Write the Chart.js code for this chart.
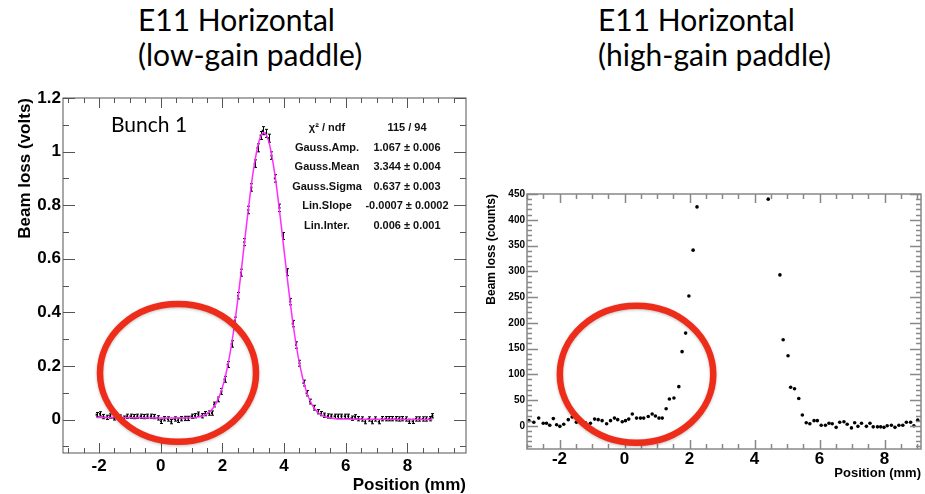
<!DOCTYPE html>
<html>
<head>
<meta charset="utf-8">
<script src="https://cdn.jsdelivr.net/npm/chart.js@4.4.1/dist/chart.umd.min.js"></script>
<style>
    body { margin: 0; background: #fff; width: 925px; height: 494px; position: relative; overflow: hidden; }
    .title { position: absolute; top: 2px; font-family: Lato, 'Open Sans', sans-serif; font-size: 30px; line-height: 35px; color: #000; white-space: nowrap; }
    canvas { position: absolute; }
</style>
</head>
<body>
<div class="title" style="left:138px">E11 Horizontal<br>(low-gain paddle)</div>
<div class="title" style="left:598px">E11 Horizontal<br>(high-gain paddle)</div>
<canvas id="low_gain" width="470" height="414" style="left:0;top:80px"></canvas>
<canvas id="high_gain" width="455" height="324" style="left:470px;top:170px"></canvas>
<script>
// ---- low-gain paddle (left panel) ----
let lowX = [
    -2.08, -1.97, -1.86, -1.75, -1.64, -1.53, -1.42, -1.31, -1.20, -1.09,
    -0.98, -0.87, -0.76, -0.65, -0.54, -0.43, -0.32, -0.21, -0.10, 0.01,
    0.12, 0.23, 0.34, 0.45, 0.56, 0.67, 0.78, 0.89, 1.00, 1.11,
    1.22, 1.33, 1.44, 1.55, 1.66,
    1.73, 1.86, 1.97, 2.07, 2.17, 2.30, 2.41, 2.51, 2.60, 2.71,
    2.84, 2.94, 3.05, 3.14, 3.24, 3.31, 3.42, 3.50, 3.59, 3.70,
    3.85, 3.96, 4.09, 4.20, 4.28, 4.39, 4.50, 4.63, 4.73, 4.84,
    4.97, 5.09, 5.20,
    5.31, 5.42, 5.53, 5.64, 5.75, 5.86, 5.97, 6.08, 6.19, 6.30,
    6.41, 6.52, 6.63, 6.74, 6.85, 6.96, 7.07, 7.18, 7.29, 7.40,
    7.51, 7.62, 7.73, 7.84, 7.95, 8.06, 8.17, 8.28, 8.39, 8.50,
    8.61, 8.72, 8.81
];
let lowY = [
    0.018, 0.021, 0.011, 0.008, 0.013, 0.006, 0.012, 0.009, 0.005, 0.012,
    0.012, 0.011, 0.012, 0.012, 0.011, 0.012, 0.012, 0.011, 0.006, -0.007,
    0.003, 0.002, -0.008, 0.002, -0.003, 0.003, 0.004, 0.004, 0.012, 0.014,
    0.020, 0.014, 0.022, 0.024, 0.024,
    0.056, 0.075, 0.105, 0.150, 0.205, 0.282, 0.370, 0.462, 0.548, 0.662,
    0.782, 0.866, 0.955, 1.014, 1.060, 1.078, 1.068, 1.050, 0.985, 0.900,
    0.790, 0.685, 0.550, 0.440, 0.358, 0.278, 0.210, 0.136, 0.098, 0.067,
    0.044, 0.029, 0.022,
    0.016, 0.013, 0.012, 0.012, 0.012, 0.012, 0.012, 0.012, 0.005, 0.010,
    0.003, 0.002, -0.008, 0.002, -0.008, 0.002, -0.008, 0.003, 0.003, 0.003,
    0.003, 0.003, 0.002, 0.003, 0.002, -0.007, -0.007, 0.002, 0.002, 0.002,
    0.002, 0.003, 0.014
];
let lowErr = [
    0.008, 0.008, 0.008, 0.008, 0.008, 0.008, 0.008, 0.008, 0.008, 0.008,
    0.008, 0.008, 0.008, 0.008, 0.008, 0.008, 0.008, 0.008, 0.008, 0.008,
    0.008, 0.008, 0.008, 0.008, 0.008, 0.008, 0.008, 0.008, 0.008, 0.008,
    0.008, 0.008, 0.008, 0.008, 0.008,
    0.009, 0.009, 0.011, 0.011, 0.011, 0.012, 0.012, 0.012, 0.013, 0.013,
    0.014, 0.014, 0.014, 0.015, 0.015, 0.015, 0.015, 0.015, 0.014, 0.014,
    0.014, 0.013, 0.013, 0.012, 0.012, 0.012, 0.011, 0.011, 0.010, 0.009,
    0.009, 0.008, 0.008,
    0.008, 0.008, 0.008, 0.008, 0.008, 0.008, 0.008, 0.008, 0.008, 0.008,
    0.008, 0.008, 0.008, 0.008, 0.008, 0.008, 0.008, 0.008, 0.008, 0.008,
    0.008, 0.008, 0.008, 0.008, 0.008, 0.008, 0.008, 0.008, 0.008, 0.008,
    0.008, 0.008, 0.008
];
// magenta fit curve
let fitX = [-2.08, -1, 0, 0.8, 1.2, 1.4, 1.6, 1.8, 2.0, 2.2, 2.4, 2.6, 2.8, 3.0, 3.2, 3.344,
    3.5, 3.7, 3.9, 4.1, 4.3, 4.5, 4.7, 4.9, 5.1, 5.3, 5.6, 6.0, 7.0, 8.0, 8.81];
let fitY = [0.0075, 0.0067, 0.006, 0.0056, 0.0089, 0.0151, 0.030, 0.0613, 0.1198, 0.2173, 0.3602, 0.5437, 0.745, 0.926, 1.044, 1.0707,
    1.039, 0.916, 0.732, 0.531, 0.349, 0.2085, 0.1134, 0.0566, 0.0263, 0.0119, 0.0041, 0.0018, 0.0011, 0.0004, 0.0];
let lowXTicks = [-2, 0, 2, 4, 6, 8];
let lowYTicks = [0, 0.2, 0.4, 0.6, 0.8, 1, 1.2];
let statNames = ['χ² / ndf', 'Gauss.Amp.', 'Gauss.Mean', 'Gauss.Sigma', 'Lin.Slope', 'Lin.Inter.'];
let statValues = ['115 / 94', '1.067 ± 0.006', '3.344 ± 0.004', '0.637 ± 0.003', '-0.0007 ± 0.0002', '0.006 ± 0.001'];

// ---- high-gain paddle (right panel) ----
let highX = [
    -2.94, -2.79, -2.64, -2.50, -2.40, -2.30, -2.19, -2.09, -1.99, -1.87,
    -1.73, -1.61, -1.48, -1.35, -1.20, -1.05, -0.92, -0.81, -0.69, -0.55,
    -0.43, -0.31, -0.21, -0.07, 0.03, 0.13, 0.24, 0.37, 0.49, 0.59,
    0.73, 0.85, 0.95, 1.06, 1.16, 1.28, 1.38, 1.52, 1.67, 1.77,
    1.88, 1.98, 2.11, 2.23,
    4.42, 4.78, 4.88, 5.03, 5.11, 5.23, 5.36, 5.47, 5.59, 5.70,
    5.83, 5.93, 6.05, 6.18, 6.29, 6.39, 6.51, 6.62, 6.75, 6.85,
    6.98, 7.08, 7.18, 7.29, 7.44, 7.55, 7.65, 7.78, 7.88, 7.98,
    8.08, 8.21, 8.32, 8.44, 8.56, 8.67, 8.80, 8.90, 9.02
];
let highY = [
    10, 7, 15, 5, 5, 1, 14, 2, -1, 3,
    12, 17, 7, 7, 6, 5, 13, 12, 10, 4,
    10, 15, 12, 8, 10, 13, 23, 15, 15, 15,
    18, 23, 19, 15, 15, 33, 52, 54, 76, 144,
    180, 252, 341, 425,
    440, 293, 167, 136, 75, 72, 53, 21, 6, 4,
    10, 10, 1, 1, 5, 4, -3, 7, 8, 3,
    -4, 6, -1, 5, -1, 5, -2, -2, -2, -3,
    0, 1, -3, 1, 1, 7, 7, 0, 11
];
let highXTicks = [-2, 0, 2, 4, 6, 8];
let highYTicks = [0, 50, 100, 150, 200, 250, 300, 350, 400, 450];

const FONT = "'Liberation Sans', Arial, Helvetica, sans-serif";

// ROOT style frame with inward ticks on all four sides
const rootFrame = {
    id: 'rootFrame',
    afterDraw(chart, args, opts) {
        let {ctx, chartArea: a, scales} = chart;
        ctx.save();
        ctx.strokeStyle = opts.color;
        ctx.lineWidth = opts.width;
        ctx.strokeRect(a.left, a.top, a.width, a.height);
        ctx.beginPath();
        let sx = scales.x;
        for (let k = Math.ceil(sx.min / opts.xMinor - 1e-6); k <= Math.floor(sx.max / opts.xMinor + 1e-6); k++) {
            let px = Math.round(sx.getPixelForValue(k * opts.xMinor)) + 0.5;
            let len = k % opts.xEvery === 0 ? opts.xLen[0] : opts.xLen[1];
            ctx.moveTo(px, a.bottom); ctx.lineTo(px, a.bottom - len);
            ctx.moveTo(px, a.top); ctx.lineTo(px, a.top + len);
        }
        let sy = scales.y;
        for (let k = Math.ceil(sy.min / opts.yMinor - 1e-6); k <= Math.floor(sy.max / opts.yMinor + 1e-6); k++) {
            let py = Math.round(sy.getPixelForValue(k * opts.yMinor)) + 0.5;
            let len = k % opts.yEvery === 0 ? opts.yLen[0] : opts.yLen[1];
            ctx.moveTo(a.left, py); ctx.lineTo(a.left + len, py);
            ctx.moveTo(a.right, py); ctx.lineTo(a.right - len, py);
        }
        ctx.stroke();
        ctx.restore();
    }
};

// vertical error bars for the first dataset
const errorBars = {
    id: 'errorBars',
    afterDatasetDraw(chart, args, opts) {
        if (!opts.errors || args.index !== 0) return;
        let {ctx, scales: {x, y}} = chart;
        ctx.save();
        ctx.strokeStyle = '#000';
        ctx.lineWidth = 1;
        ctx.beginPath();
        args.meta.data.forEach((pt, i) => {
            let v = lowY[i], e = opts.errors[i];
            let px = Math.round(x.getPixelForValue(lowX[i])) + 0.5;
            let top = y.getPixelForValue(v + e), bot = y.getPixelForValue(v - e);
            ctx.moveTo(px, top); ctx.lineTo(px, bot);
            ctx.moveTo(px - 1.5, top); ctx.lineTo(px + 1.5, top);
            ctx.moveTo(px - 1.5, bot); ctx.lineTo(px + 1.5, bot);
        });
        ctx.stroke();
        ctx.restore();
    }
};

// hand drawn red ellipse plus text notes
const notes = {
    id: 'notes',
    afterDraw(chart, args, opts) {
        let {ctx, chartArea: a, scales: {x, y}} = chart;
        ctx.save();
        if (opts.texts) {
            ctx.fillStyle = '#000';
            ctx.font = "21px Lato, 'Open Sans', sans-serif";
            ctx.textAlign = 'left';
            ctx.textBaseline = 'alphabetic';
            ctx.fillText(opts.texts.label, a.left + 48, a.top + 34);
            ctx.font = 'bold 11px ' + FONT;
            ctx.fillStyle = '#111';
            ctx.textAlign = 'center';
            ctx.textBaseline = 'middle';
            opts.texts.names.forEach((name, i) => {
                let ty = a.top + 30 + i * 19.6;
                ctx.fillText(name, a.left + 264, ty);
                ctx.fillText(opts.texts.values[i], a.left + 344, ty);
            });
        }
        let e = opts.ellipse;
        let cx = x.getPixelForValue(e.x), cy = y.getPixelForValue(e.y);
        let rx = x.getPixelForValue(e.x + e.rx) - cx;
        let ry = cy - y.getPixelForValue(e.y + e.ry);
        ctx.shadowColor = 'rgba(0, 0, 0, 0.25)';
        ctx.shadowBlur = 3;
        ctx.shadowOffsetY = 1;
        ctx.strokeStyle = '#ee2c1a';
        ctx.lineWidth = 6.5;
        ctx.beginPath();
        ctx.ellipse(cx, cy, rx, ry, 0, 0, Math.PI * 2);
        ctx.stroke();
        ctx.restore();
    }
};

function axisX(min, max, ticks, height, pad, title) {
    return {
        type: 'linear', min: min, max: max,
        afterBuildTicks: (axis) => { axis.ticks = ticks.map(v => ({value: v})); },
        afterFit: (axis) => { axis.height = height; },
        grid: {display: false, drawTicks: false},
        border: {display: false},
        ticks: {padding: pad, color: '#000', maxRotation: 0, autoSkip: false,
            font: {family: FONT, size: 17, weight: 'bold', lineHeight: 1},
            callback: (v) => String(v)},
        title: title
    };
}

function axisY(min, max, ticks, width, pad, size, title) {
    return {
        type: 'linear', min: min, max: max,
        afterBuildTicks: (axis) => { axis.ticks = ticks.map(v => ({value: v})); },
        afterFit: (axis) => { axis.width = width; },
        grid: {display: false, drawTicks: false},
        border: {display: false},
        ticks: {padding: pad, color: '#000', autoSkip: false,
            font: {family: FONT, size: size, weight: 'bold', lineHeight: 1},
            callback: (v) => String(Math.round(v * 10) / 10)},
        title: title
    };
}

new Chart(document.getElementById('low_gain'), {
    type: 'scatter',
    data: {
        datasets: [
            {
                label: 'Bunch 1',
                data: lowX.map((v, i) => ({x: v, y: lowY[i]})),
                pointStyle: 'rect',
                pointRadius: 1.4,
                backgroundColor: '#000',
                borderColor: '#000',
                borderWidth: 0,
                order: 2
            },
            {
                type: 'line',
                label: 'fit',
                data: fitX.map((v, i) => ({x: v, y: fitY[i]})),
                borderColor: '#ff2bff',
                borderWidth: 1.5,
                pointRadius: 0,
                fill: false,
                cubicInterpolationMode: 'monotone',
                order: 1
            }
        ]
    },
    options: {
        responsive: false,
        animation: false,
        layout: {padding: {top: 18, right: 3, left: 0, bottom: 0}},
        scales: {
            x: axisX(-3.17, 9.9, lowXTicks, 41, 4.5, {
                display: true, text: 'Position (mm)', align: 'end', color: '#000',
                font: {family: FONT, size: 17, weight: 'bold', lineHeight: 1},
                padding: {top: 0, bottom: 0}
            }),
            y: axisY(-0.125, 1.2, lowYTicks, 63, 2, 17, {
                display: true, text: 'Beam loss (volts)', align: 'end', color: '#000',
                font: {family: FONT, size: 17, weight: 'bold', lineHeight: 1},
                padding: {top: 16.5, bottom: 0}
            })
        },
        plugins: {
            legend: {display: false},
            tooltip: {enabled: false},
            rootFrame: {color: '#555', width: 1, xMinor: 0.5, xEvery: 4, xLen: [10, 5], yMinor: 0.1, yEvery: 2, yLen: [12, 6]},
            errorBars: {errors: lowErr},
            notes: {
                texts: {label: 'Bunch 1', names: statNames, values: statValues},
                ellipse: {x: 0.56, y: 0.174, rx: 2.53, ry: 0.257}
            }
        }
    },
    plugins: [rootFrame, errorBars, notes]
});

new Chart(document.getElementById('high_gain'), {
    type: 'scatter',
    data: {
        datasets: [{
            label: 'counts',
            data: highX.map((v, i) => ({x: v, y: highY[i]})),
            pointStyle: 'circle',
            pointRadius: 1.8,
            backgroundColor: '#000',
            borderColor: '#000',
            borderWidth: 0
        }]
    },
    options: {
        responsive: false,
        animation: false,
        layout: {padding: {top: 24, right: 4, left: 0, bottom: 0}},
        scales: {
            x: axisX(-3.0, 9.12, highXTicks, 45, 1.5, {
                display: true, text: 'Position (mm)', align: 'end', color: '#000',
                font: {family: FONT, size: 13, weight: 'bold', lineHeight: 1},
                padding: {top: 0, bottom: 14.5}
            }),
            y: axisY(-45, 450, highYTicks, 57, 2, 10, {
                display: true, text: 'Beam loss (counts)', align: 'end', color: '#000',
                font: {family: FONT, size: 12, weight: 'bold', lineHeight: 1},
                padding: {top: 15.7, bottom: 0}
            })
        },
        plugins: {
            legend: {display: false},
            tooltip: {enabled: false},
            rootFrame: {color: '#888', width: 1.5, xMinor: 0.5, xEvery: 4, xLen: [9, 5], yMinor: 10, yEvery: 5, yLen: [11, 5]},
            notes: {ellipse: {x: 0.37, y: 100, rx: 2.36, ry: 133}}
        }
    },
    plugins: [rootFrame, notes]
});
</script>
</body>
</html>
